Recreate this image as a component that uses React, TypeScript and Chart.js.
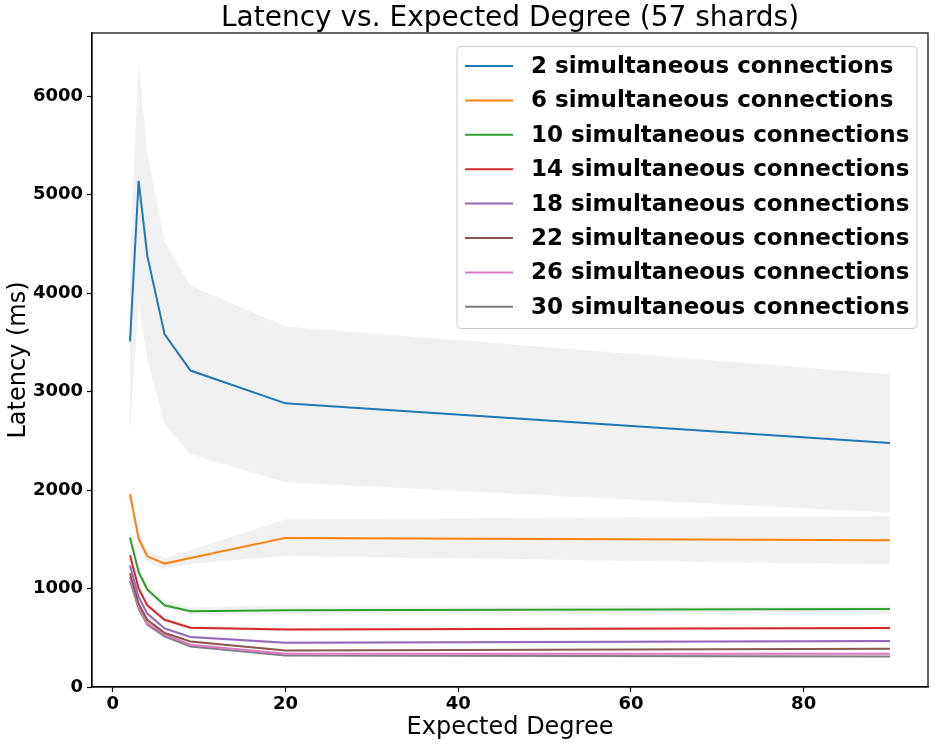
import React, { useEffect, useRef } from "react";
import { Chart, registerables } from "chart.js";

Chart.register(...registerables);

const degrees = [2, 3, 4, 6, 9, 20, 90];

const seriesLabels = [
  "2 simultaneous connections",
  "6 simultaneous connections",
  "10 simultaneous connections",
  "14 simultaneous connections",
  "18 simultaneous connections",
  "22 simultaneous connections",
  "26 simultaneous connections",
  "30 simultaneous connections",
];

const seriesColors = ["#1f77b4", "#ff7f0e", "#2ca02c", "#d62728", "#9467bd", "#8c564b", "#e377c2", "#7f7f7f"];

const lat2 = [3508, 5140, 4380, 3583, 3213, 2880, 2477];
const lat2Hi = [4430, 6340, 5424, 4525, 4074, 3660, 3176];
const lat2Lo = [2582, 3914, 3339, 2660, 2360, 2080, 1768];

const lat6 = [1958, 1507, 1327, 1253, 1310, 1514, 1490];
const lat6Hi = [2030, 1570, 1390, 1310, 1390, 1704, 1734];
const lat6Lo = [1890, 1450, 1270, 1200, 1250, 1330, 1243];

const lat10 = [1518, 1168, 990, 830, 770, 778, 791];
const lat10Hi = [1570, 1215, 1030, 865, 810, 830, 826];
const lat10Lo = [1465, 1120, 950, 795, 735, 735, 738];

const lat14 = [1337, 1000, 829, 683, 602, 585, 598];
const lat14Hi = [1375, 1035, 860, 708, 625, 605, 615];
const lat14Lo = [1300, 965, 800, 660, 580, 565, 580];

const lat18 = [1233, 914, 745, 595, 507, 450, 466];
const lat18Hi = [1265, 940, 768, 615, 525, 465, 480];
const lat18Lo = [1200, 888, 722, 575, 490, 435, 452];

const lat22 = [1155, 846, 683, 550, 463, 371, 388];
const lat22Hi = [1180, 868, 700, 565, 476, 382, 398];
const lat22Lo = [1130, 825, 666, 535, 450, 360, 378];

const lat26 = [1117, 819, 649, 534, 429, 338, 338];
const lat26Hi = [1140, 838, 665, 548, 440, 348, 348];
const lat26Lo = [1095, 800, 633, 520, 418, 328, 328];

const lat30 = [1080, 795, 633, 514, 412, 320, 310];
const lat30Hi = [1105, 815, 650, 528, 424, 332, 322];
const lat30Lo = [1055, 775, 616, 500, 400, 308, 298];

const means = [lat2, lat6, lat10, lat14, lat18, lat22, lat26, lat30];
const highs = [lat2Hi, lat6Hi, lat10Hi, lat14Hi, lat18Hi, lat22Hi, lat26Hi, lat30Hi];
const lows = [lat2Lo, lat6Lo, lat10Lo, lat14Lo, lat18Lo, lat22Lo, lat26Lo, lat30Lo];

const xTicks = [0, 20, 40, 60, 80];
const yTicks = [0, 1000, 2000, 3000, 4000, 5000, 6000];

const titleText = "Latency vs. Expected Degree (57 shards)";

const FONT = "'DejaVu Sans', sans-serif";

const pts = (ys: number[]) => degrees.map((x, i) => ({ x, y: ys[i] }));

const boxPlugin = {
  id: "boxPlugin",
  afterDatasetsDraw(chart: any) {
    const { ctx, chartArea } = chart;
    ctx.save();
    ctx.strokeStyle = "#000";
    ctx.lineWidth = 1.2;
    ctx.strokeRect(chartArea.left, chartArea.top, chartArea.right - chartArea.left, chartArea.bottom - chartArea.top);
    ctx.restore();
  },
};

const titlePlugin = {
  id: "axesTitle",
  afterDraw(chart: any) {
    const { ctx, chartArea } = chart;
    ctx.save();
    ctx.font = `28px ${FONT}`;
    ctx.fillStyle = "#000";
    ctx.textAlign = "center";
    ctx.textBaseline = "middle";
    ctx.fillText(titleText, (chartArea.left + chartArea.right) / 2, 19);
    ctx.restore();
  },
};

const legendPlugin = {
  id: "insideLegend",
  afterDraw(chart: any) {
    const { ctx } = chart;
    const x0 = 457;
    const y0 = 46.5;
    const w = 460;
    const h = 282;
    ctx.save();
    ctx.fillStyle = "rgba(255,255,255,0.8)";
    ctx.strokeStyle = "#cccccc";
    ctx.lineWidth = 1;
    ctx.beginPath();
    if ((ctx as any).roundRect) (ctx as any).roundRect(x0, y0, w, h, 4);
    else ctx.rect(x0, y0, w, h);
    ctx.fill();
    ctx.stroke();
    ctx.font = `bold 23px ${FONT}`;
    ctx.textBaseline = "middle";
    ctx.fillStyle = "#000";
    seriesLabels.forEach((label, i) => {
      const y = 66 + i * 34.4;
      ctx.strokeStyle = seriesColors[i];
      ctx.lineWidth = 2;
      ctx.beginPath();
      ctx.moveTo(465, y);
      ctx.lineTo(513, y);
      ctx.stroke();
      ctx.fillText(label, 531, y + 1);
    });
    ctx.restore();
  },
};

export default function App() {
  const canvasRef = useRef<HTMLCanvasElement>(null);

  useEffect(() => {
    document.body.style.margin = "0";
    const canvas = canvasRef.current;
    if (!canvas) return;

    const datasets: any[] = [];
    means.forEach((_, i) => {
      datasets.push({
        label: "band-hi-" + i,
        data: pts(highs[i]),
        borderWidth: 0,
        borderColor: "rgba(0,0,0,0)",
        backgroundColor: "rgba(128,128,128,0.11)",
        pointRadius: 0,
        fill: "+1",
        order: 10,
        tension: 0,
      });
      datasets.push({
        label: "band-lo-" + i,
        data: pts(lows[i]),
        borderWidth: 0,
        borderColor: "rgba(0,0,0,0)",
        backgroundColor: "rgba(128,128,128,0.11)",
        pointRadius: 0,
        fill: false,
        order: 10,
        tension: 0,
      });
    });
    means.forEach((m, i) => {
      datasets.push({
        label: seriesLabels[i],
        data: pts(m),
        borderColor: seriesColors[i],
        backgroundColor: seriesColors[i],
        borderWidth: 2,
        pointRadius: 0,
        fill: false,
        order: 1,
        tension: 0,
      });
    });

    const chart = new Chart(canvas, {
      type: "line",
      data: { datasets },
      options: {
        animation: false,
        responsive: false,
        maintainAspectRatio: false,
        layout: { padding: { top: 33, right: 10, left: 0, bottom: 0 } },
        plugins: {
          legend: { display: false },
          tooltip: { enabled: false },
          title: { display: false },
        },
        scales: {
          x: {
            type: "linear",
            min: -2.4,
            max: 94.4,
            afterBuildTicks: (axis: any) => {
              axis.ticks = xTicks.map((v) => ({ value: v }));
            },
            afterFit: (axis: any) => {
              axis.height = 59;
            },
            grid: { display: true, drawOnChartArea: false, drawTicks: true, tickLength: 5, color: "#000", tickWidth: 1.2 },
            border: { display: true, color: "#000", width: 1.2 },
            ticks: {
              color: "#000",
              font: { family: FONT, size: 18, weight: "bold" },
              padding: 2,
              maxRotation: 0,
              callback: (v: any) => String(v),
            },
            title: {
              display: true,
              text: "Expected Degree",
              color: "#000",
              font: { family: FONT, size: 24, weight: "normal" },
              padding: { top: 0, bottom: 4 },
            },
          },
          y: {
            type: "linear",
            min: 0,
            max: 6640,
            afterBuildTicks: (axis: any) => {
              axis.ticks = yTicks.map((v) => ({ value: v }));
            },
            afterFit: (axis: any) => {
              axis.width = 92;
            },
            grid: { display: true, drawOnChartArea: false, drawTicks: true, tickLength: 5, color: "#000", tickWidth: 1.2 },
            border: { display: true, color: "#000", width: 1.2 },
            ticks: {
              color: "#000",
              font: { family: FONT, size: 18, weight: "bold" },
              padding: 4,
              callback: (v: any) => String(v),
            },
            title: {
              display: true,
              text: "Latency (ms)",
              color: "#000",
              font: { family: FONT, size: 24, weight: "normal" },
              padding: { top: 4, bottom: 0 },
            },
          },
        },
      },
      plugins: [boxPlugin, legendPlugin, titlePlugin],
    });

    return () => chart.destroy();
  }, []);

  return (
    <div style={{ position: "absolute", left: 0, top: 0, width: 938, height: 746, background: "#fff" }}>
      <canvas ref={canvasRef} width={938} height={746} style={{ width: 938, height: 746, display: "block" }} />
    </div>
  );
}
